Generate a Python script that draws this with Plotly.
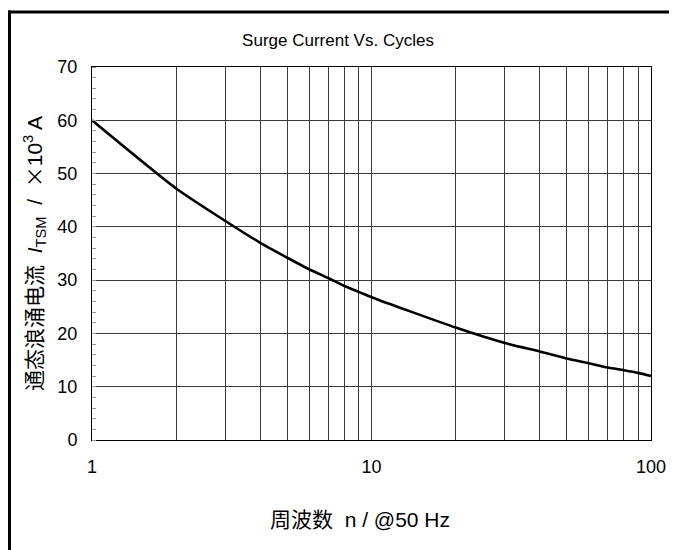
import plotly.graph_objects as go

cycles = [1, 2, 3, 4, 5, 6, 7, 8, 9, 10, 20, 30, 40, 50, 60, 70, 80, 90, 100]
itsm_ka = [60.0, 47.2, 41.1, 37.0, 34.2, 32.0, 30.4, 28.9, 27.8, 26.8,
           21.1, 18.2, 16.6, 15.3, 14.4, 13.6, 13.1, 12.6, 12.0]

x_ticks = [1, 10, 100]
x_tick_text = ["1", "10", "100"]
y_ticks = [0, 10, 20, 30, 40, 50, 60, 70]

# the page places the figure 8 px in from the top-left corner
W, H = 669, 542
L, R, T, B = 84, 26, 59, 110
pw, ph = W - L - R, H - T - B

SANS = "Liberation Sans, Arial, sans-serif"
CJK = "Liberation Sans, Arial, Noto Sans CJK SC, sans-serif"
GRID = "#3a3a3a"

fig = go.Figure()
fig.add_trace(go.Scatter(
    x=cycles, y=itsm_ka, mode="lines",
    line=dict(color="black", width=2.6, shape="spline", smoothing=0.6),
    showlegend=False, hoverinfo="x+y",
))

y_title = ("通态浪涌电流  <i>I</i><sub>TSM</sub>  /  "
           "<span style=\"font-family:'Noto Sans CJK SC'\">×</span>10<sup>3</sup> A")

fig.update_layout(
    width=W, height=H,
    margin=dict(l=L, r=R, t=T, b=B),
    paper_bgcolor="white", plot_bgcolor="white",
    font=dict(family=SANS, size=18, color="black"),
    title=dict(text="Surge Current Vs. Cycles", x=(330 - L) / pw, xref="paper",
               xanchor="center", y=1 - 32 / H, yanchor="middle",
               font=dict(family=SANS, size=17, color="black")),
    xaxis=dict(
        type="log", range=[0, 2],
        tickvals=x_ticks, ticktext=x_tick_text,
        showgrid=True, gridcolor=GRID, gridwidth=1,
        showline=True, linecolor="black", linewidth=1, mirror=True,
        ticks="", ticklabelstandoff=10, tickfont=dict(family=SANS, size=18),
        minor=dict(dtick="D1", showgrid=True, gridcolor=GRID, gridwidth=1, ticks=""),
        zeroline=False,
    ),
    yaxis=dict(
        range=[0, 70], tickvals=y_ticks,
        showgrid=True, gridcolor=GRID, gridwidth=1,
        showline=True, linecolor="black", linewidth=1, mirror=True,
        ticks="", ticklabelstandoff=10, tickfont=dict(family=SANS, size=18),
        minor=dict(dtick=2, ticks="inside", ticklen=4, tickcolor="#999999", showgrid=False),
        title=dict(text=y_title, standoff=9,
                   font=dict(family=CJK, size=21)),
        zeroline=False,
    ),
    annotations=[
        dict(text="周波数  n / @50 Hz", xref="paper", yref="paper",
             x=(352 - L) / pw, y=-(512 - (H - B)) / ph,
             xanchor="center", yanchor="middle", showarrow=False,
             font=dict(family=CJK, size=21, color="black")),
    ],
    shapes=[
        dict(type="line", xref="paper", yref="paper",
             x0=(0 - L) / pw, x1=(W + 5 - L) / pw,
             y0=(H - B - 4) / ph, y1=(H - B - 4) / ph,
             line=dict(color="black", width=3)),
        dict(type="line", xref="paper", yref="paper",
             x0=(1.5 - L) / pw, x1=(1.5 - L) / pw,
             y0=(H - B - 2.5) / ph, y1=(H - B - H - 5) / ph,
             line=dict(color="black", width=3)),
    ],
)

fig.write_html("out.html")
